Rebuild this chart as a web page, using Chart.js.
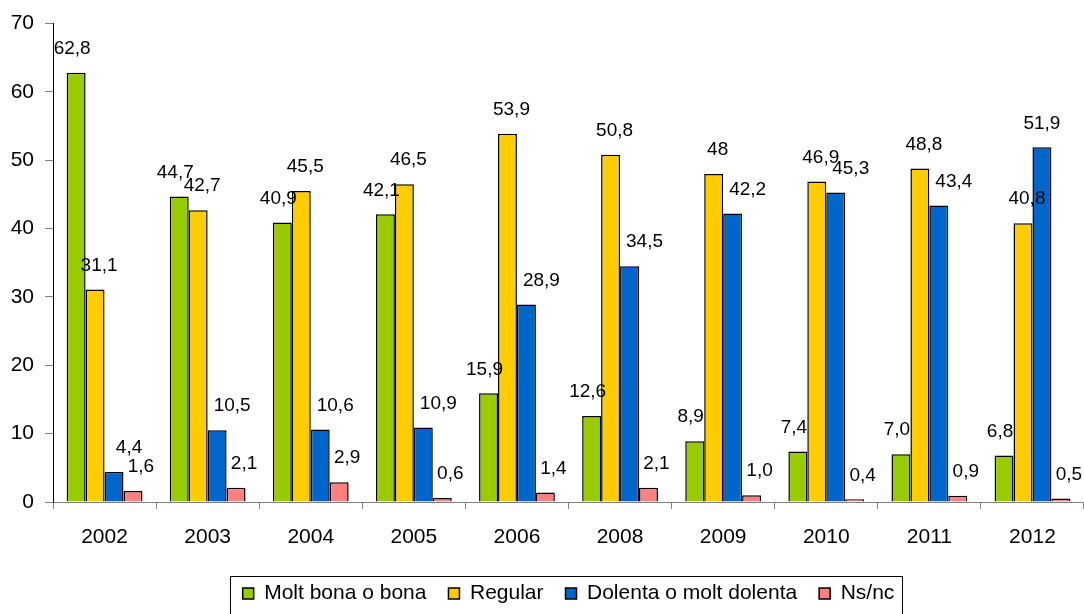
<!DOCTYPE html>
<html>
<head>
<meta charset="utf-8">
<script src="https://cdn.jsdelivr.net/npm/chart.js@4/dist/chart.umd.min.js"></script>
<style>
  html, body { margin: 0; padding: 0; background: #fff; }
  #wrap { width: 1084px; height: 614px; }
</style>
</head>
<body>
<div id="wrap"><canvas id="myChart"></canvas></div>
<script>
// Data (labels kept as printed, with comma decimals)
const years = ['2002', '2003', '2004', '2005', '2006', '2008', '2009', '2010', '2011', '2012'];
const moltBona = ['62,8', '44,7', '40,9', '42,1', '15,9', '12,6', '8,9', '7,4', '7,0', '6,8'];
const regular  = ['31,1', '42,7', '45,5', '46,5', '53,9', '50,8', '48', '46,9', '48,8', '40,8'];
const dolenta  = ['4,4', '10,5', '10,6', '10,9', '28,9', '34,5', '42,2', '45,3', '43,4', '51,9'];
const nsnc     = ['1,6', '2,1', '2,9', '0,6', '1,4', '2,1', '1,0', '0,4', '0,9', '0,5'];
const yTicks = [0, 10, 20, 30, 40, 50, 60, 70];

const toNum = arr => arr.map(s => parseFloat(s.replace(',', '.')));
const FONT = '"Liberation Sans", Arial, sans-serif';

// Draws the value over each bar, like the Excel labels
const barLabels = {
    id: 'barLabels',
    afterDatasetsDraw(chart) {
        const ctx = chart.ctx;
        ctx.save();
        ctx.font = '19px ' + FONT;
        ctx.fillStyle = '#000';
        ctx.textAlign = 'center';
        ctx.textBaseline = 'middle';
        chart.data.datasets.forEach((ds, i) => {
            const meta = chart.getDatasetMeta(i);
            meta.data.forEach((bar, j) => {
                let dx = ds.labelDx;
                if (j === chart.data.labels.length - 1 && i === 2) dx = 0;
                ctx.fillText(ds.texts[j], bar.x + dx, bar.y - 24);
            });
        });
        ctx.restore();
    }
};

// Centre the legend under the plot area (as in the original) and frame it
const legendFrame = {
    id: 'legendFrame',
    afterLayout(chart) {
        const lg = chart.legend;
        if (!lg) return;
        lg.left = chart.chartArea.left;
        lg.right = chart.chartArea.right;
    },
    afterDraw(chart) {
        const lg = chart.legend;
        if (!lg || !lg.legendHitBoxes.length) return;
        const boxes = lg.legendHitBoxes;
        const first = boxes[0], last = boxes[boxes.length - 1];
        const cy = first.top + first.height / 2;
        const ctx = chart.ctx;
        ctx.save();
        ctx.strokeStyle = '#000';
        ctx.lineWidth = 1;
        ctx.strokeRect(Math.round(first.left - 13) + 0.5, Math.round(cy - 18) + 0.5,
            Math.round(last.left + last.width - first.left + 20), 60);
        ctx.restore();
    }
};

function series(label, texts, color, dx) {
    return {
        label: label,
        data: toNum(texts),
        texts: texts,
        labelDx: dx,
        backgroundColor: color,
        borderColor: '#000',
        borderWidth: 1.5,
        borderSkipped: 'bottom',
        categoryPercentage: 0.735,
        barPercentage: 1.0
    };
}

new Chart(document.getElementById('myChart'), {
    type: 'bar',
    data: {
        labels: years,
        datasets: [
            series('Molt bona o bona', moltBona, '#99CC00', -4),
            series('Regular', regular, '#FFCC00', 4),
            series('Dolenta o molt dolenta', dolenta, '#0066CC', 15),
            series('Ns/nc', nsnc, '#FF8080', 8)
        ]
    },
    options: {
        responsive: true,
        maintainAspectRatio: false,
        animation: false,
        devicePixelRatio: 1,
        layout: { padding: { top: 21, left: 0, right: -5, bottom: 0 } },
        plugins: {
            tooltip: { enabled: false },
            legend: {
                position: 'bottom',
                labels: {
                    color: '#000',
                    font: { family: FONT, size: 21 },
                    boxWidth: 11,
                    boxHeight: 11,
                    padding: 22
                }
            }
        },
        scales: {
            x: {
                border: { color: '#808080', width: 1 },
                grid: { offset: true, drawOnChartArea: false, drawTicks: true, tickLength: 7, color: '#808080' },
                ticks: { color: '#000', font: { family: FONT, size: 21 }, padding: 16, maxRotation: 0 },
                afterFit: (scale) => { scale.height = 59; }
            },
            y: {
                min: 0,
                max: 70,
                border: { color: '#000', width: 1 },
                grid: { drawOnChartArea: false, drawTicks: true, tickLength: 8, color: '#808080' },
                afterBuildTicks: (scale) => { scale.ticks = yTicks.map(v => ({ value: v })); },
                ticks: { color: '#000', font: { family: FONT, size: 21 }, padding: 11 },
                afterFit: (scale) => { scale.width = 53; }
            }
        }
    },
    plugins: [barLabels, legendFrame]
});
</script>
</body>
</html>
